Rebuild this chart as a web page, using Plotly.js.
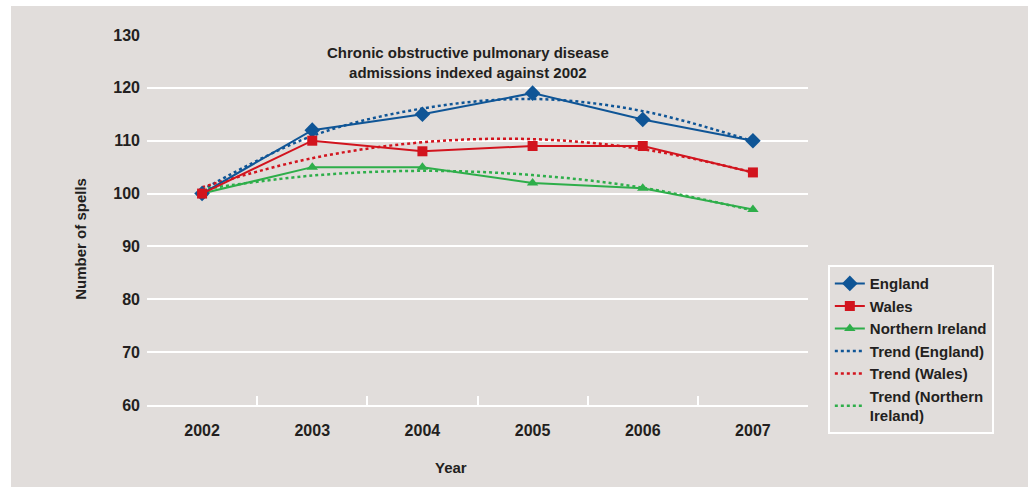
<!DOCTYPE html>
<html>
<head>
<meta charset="utf-8">
<script src="https://cdn.plot.ly/plotly-3.0.1.min.js"></script>
<style>
  html, body { margin: 0; padding: 0; background: #ffffff; width: 1028px; height: 487px; overflow: hidden; }
  #chart { position: absolute; left: 11px; top: 6px; width: 1017px; height: 481px; }
</style>
</head>
<body>
<div id="chart"></div>
<script>
// ---- Data ----
const years = ["2002", "2003", "2004", "2005", "2006", "2007"];
const england = [100, 112, 115, 119, 114, 110];
const wales = [100, 110, 108, 109, 109, 104];
const northernIreland = [100, 105, 105, 102, 101, 97];
const trendEngland = [100.7, 110.9, 116.1, 117.9, 115.6, 109.9];
const trendWales = [101.2, 106.7, 109.7, 110.3, 108.4, 104.0];
const trendNI = [100.8, 103.4, 104.3, 103.5, 101.1, 96.8];
const yTicks = [60, 70, 80, 90, 100, 110, 120, 130];

const BLUE = "#0f5596";
const RED = "#d2141e";
const GREEN = "#2eae4a";
const BG = "#e1dddb";
const TXT = "#231f20";
const FONT = "Liberation Sans, Arial, sans-serif";

const traces = [
  { x: years, y: trendEngland, name: "Trend (England)", mode: "lines", line: { color: BLUE, width: 2.5, dash: "dot", shape: "spline" }, legendrank: 4 },
  { x: years, y: trendWales, name: "Trend (Wales)", mode: "lines", line: { color: RED, width: 2.5, dash: "dot", shape: "spline" }, legendrank: 5 },
  { x: years, y: trendNI, name: "Trend (Northern<br>Ireland)", mode: "lines", line: { color: GREEN, width: 2.5, dash: "dot", shape: "spline" }, legendrank: 6 },
  { x: years, y: northernIreland, name: "Northern Ireland", mode: "lines+markers", line: { color: GREEN, width: 2 }, marker: { symbol: "triangle-up", size: 10, color: GREEN }, legendrank: 3 },
  { x: years, y: england, name: "England", mode: "lines+markers", line: { color: BLUE, width: 2 }, marker: { symbol: "diamond", size: 12, color: BLUE }, legendrank: 1 },
  { x: years, y: wales, name: "Wales", mode: "lines+markers", line: { color: RED, width: 2 }, marker: { symbol: "square", size: 10, color: RED }, legendrank: 2 }
];

const layout = {
  width: 1017, height: 481,
  margin: { l: 136, r: 220, t: 29, b: 82 },
  paper_bgcolor: BG, plot_bgcolor: BG,
  font: { family: FONT, color: TXT, size: 16, weight: "bold" },
  showlegend: true,
  legend: {
    x: 1.03, xanchor: "left", y: 0.378, yanchor: "top",
    bgcolor: BG, bordercolor: "#ffffff", borderwidth: 2,
    font: { family: FONT, size: 15, color: TXT, weight: "bold" },
    itemwidth: 30, tracegroupgap: 0,
    traceorder: "normal"
  },
  xaxis: {
    type: "category", range: [-0.5, 5.5],
    showgrid: false, zeroline: false,
    showline: true, linecolor: "#ffffff", linewidth: 2,
    ticks: "inside", tickson: "boundaries", ticklen: 9, tickwidth: 2, tickcolor: "#ffffff",
    tickfont: { family: FONT, size: 16, color: TXT, weight: "bold" },
    ticklabelstandoff: 10,
    fixedrange: true
  },
  yaxis: {
    range: [60, 130], tickvals: yTicks, ticktext: yTicks.map(String),
    showgrid: true, gridcolor: "#ffffff", gridwidth: 2,
    zeroline: false, showline: false, ticks: "",
    tickfont: { family: FONT, size: 16, color: TXT, weight: "bold" },
    ticklabelstandoff: 6,
    fixedrange: true
  },
  annotations: [
    { text: "Chronic obstructive pulmonary disease<br>admissions indexed against 2002", xref: "paper", yref: "paper",
      x: 0.485, y: 0.98, xanchor: "center", yanchor: "top", showarrow: false,
      font: { family: FONT, size: 15, color: TXT, weight: "bold" } },
    { text: "Number of spells", xref: "paper", yref: "paper", x: -0.101, y: 0.45, textangle: -90,
      xanchor: "center", yanchor: "middle", showarrow: false,
      font: { family: FONT, size: 15, color: TXT, weight: "bold" } },
    { text: "Year", xref: "paper", yref: "paper", x: 0.46, y: -0.17, xanchor: "center", yanchor: "middle", showarrow: false,
      font: { family: FONT, size: 15, color: TXT, weight: "bold" } }
  ]
};

Plotly.newPlot("chart", traces, layout, { displayModeBar: false, staticPlot: true });
</script>
</body>
</html>
